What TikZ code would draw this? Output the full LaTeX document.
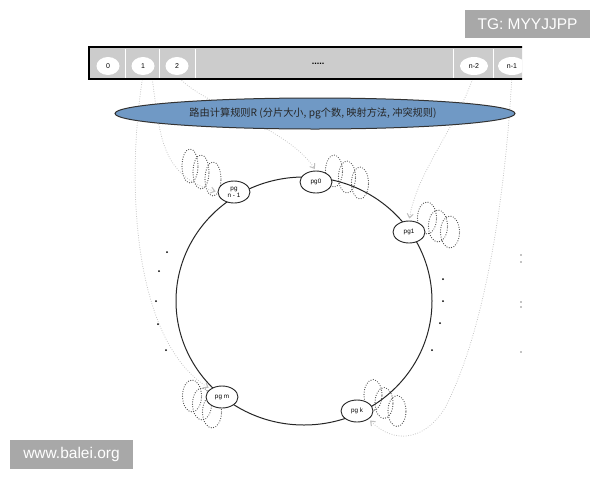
\documentclass[tikz,border=0pt]{standalone}
\usepackage{fontspec}
\setmainfont{Liberation Sans}
\newfontfamily\cjk{Noto Sans CJK SC}
\usetikzlibrary{shapes.geometric,arrows.meta}
\pgfdeclarelayer{bg}
\pgfsetlayers{bg,main}
\definecolor{ruleblue}{RGB}{112,153,197}
\definecolor{wmgray}{RGB}{168,168,168}
\definecolor{routegray}{RGB}{190,190,190}
\begin{document}
\begin{tikzpicture}[x=1pt,y=-1pt,
  cellnode/.style={ellipse,fill=white,draw=none,minimum width=23pt,minimum height=18pt,inner sep=0pt,font=\fontsize{7}{8}\selectfont},
  pgnode/.style={ellipse,draw=black!85,line width=0.9pt,fill=white,minimum width=32pt,minimum height=22pt,inner sep=0pt,font=\fontsize{6.3}{6.8}\selectfont,align=center},
  replica/.style={draw=black!70,line width=1.2pt,dash pattern=on 0pt off 2.4pt,line cap=round},
  route/.style={draw=routegray,line width=1pt,dash pattern=on 0pt off 2.4pt,line cap=round,shorten >=2pt,-{Straight Barb[length=4pt,width=6pt,line cap=butt]}},
  dotmark/.style={fill=black,circle,inner sep=0pt,minimum size=2pt},
  wm/.style={fill=wmgray,text=white,font=\fontsize{15.5}{16}\selectfont,inner sep=0pt}
]
\useasboundingbox (0,0) rectangle (600,480);

% ---- slot bar (clipped at the picture's right edge)
\begin{scope}
\clip (0,0) rectangle (522,480);
\draw[fill=black!20,line width=1.3pt] (89,47) rectangle (540,79);
\foreach \sx in {125,159,195,453,493}{
  \draw[white,line width=0.9pt] (\sx,48.5) -- (\sx,77.5);
}
\node[cellnode] (c0) at (108,66) {0};
\node[cellnode] (c1) at (143,66) {1};
\node[cellnode] (c2) at (177,66) {2};
\node[font=\fontsize{9}{10}\selectfont\bfseries] (dots) at (318,64) {.....};
\node[cellnode,minimum width=28pt] (cn2) at (474,66) {n-2};
\node[cellnode,minimum width=28pt] (cn1) at (512,66) {n-1};
\end{scope}

% ---- routing rule
\node[ellipse,draw=black!80,line width=1pt,fill=ruleblue,minimum width=400pt,minimum height=31pt,inner sep=0pt] (rule) at (315,113.5) {};
\node[text=black!85,font=\cjk\fontsize{10.2}{11}\selectfont] (ruletext) at (313,113) {路由计算规则R (分片大小, pg个数, 映射方法, 冲突规则)};

% ---- replica ellipses
\foreach \cx/\cy in {190/166,201/172,213/179}{\draw[replica] (\cx,\cy) ellipse [x radius=8pt,y radius=17pt];}
\foreach \cx/\cy in {334/171,347/177,360/183}{\draw[replica] (\cx,\cy) ellipse [x radius=8.5pt,y radius=16pt];}
\foreach \cx/\cy in {427/218,438/226,450/232}{\draw[replica] (\cx,\cy) ellipse [x radius=9.5pt,y radius=16pt];}
\foreach \cx/\cy in {192/396,202/404,212/412}{\draw[replica] (\cx,\cy) ellipse [x radius=9.5pt,y radius=16pt];}
\foreach \cx/\cy in {373/395,384/403,397/411}{\draw[replica] (\cx,\cy) ellipse [x radius=9pt,y radius=15.5pt];}

% ---- ring
\draw[black!85,line width=1pt] (304,301) ellipse [x radius=128pt,y radius=124pt];

% ---- placement groups
\node[pgnode] (pgn1) at (234,192) {pg\\n - 1};
\node[pgnode] (pg0) at (316,182) {pg0};
\node[pgnode] (pg1) at (409,232) {pg1};
\node[pgnode] (pgm) at (222,397) {pg m};
\node[pgnode] (pgk) at (357,411) {pg k};

% ---- ellipsis dots
\foreach \dx/\dy [count=\i] in {167/252,159/271,156/301,158/324,166/350}{\node[dotmark] (ld\i) at (\dx,\dy) {};}
\foreach \dx/\dy [count=\i] in {443/279,443/301,440/323,432/350}{\node[dotmark] (rd\i) at (\dx,\dy) {};}
\foreach \dy [count=\i] in {255,262,302,307,352}{\node[dotmark,minimum size=1.4pt] (ed\i) at (521,\dy) {};}

% ---- routing arrows (behind everything)
\begin{pgfonlayer}{bg}
\fill[white] (0,0) rectangle (600,480);
\draw[route] (c1.south) .. controls (126,180) and (132,340) .. (pgm.north west);
\draw[route] (c1.south east) .. controls (160,130) and (158,175) .. (pgn1.west);
\draw[route] (c2.south) .. controls (200,105) and (285,125) .. (pg0.north);
\draw[route] (cn2.south) .. controls (455,130) and (418,170) .. (pg1.north);
\draw[route] (cn1.south) .. controls (505,200) and (485,330) .. (445,408) .. controls (425,440) and (395,445) .. (pgk.south east);
\end{pgfonlayer}

% ---- watermarks
\node[wm,minimum width=125pt,minimum height=28pt] (tg) at (527.5,24) {TG: MYYJJPP};
\node[wm,minimum width=123pt,minimum height=29pt] (web) at (71.5,454.5) {www.balei.org};
\end{tikzpicture}
\end{document}
